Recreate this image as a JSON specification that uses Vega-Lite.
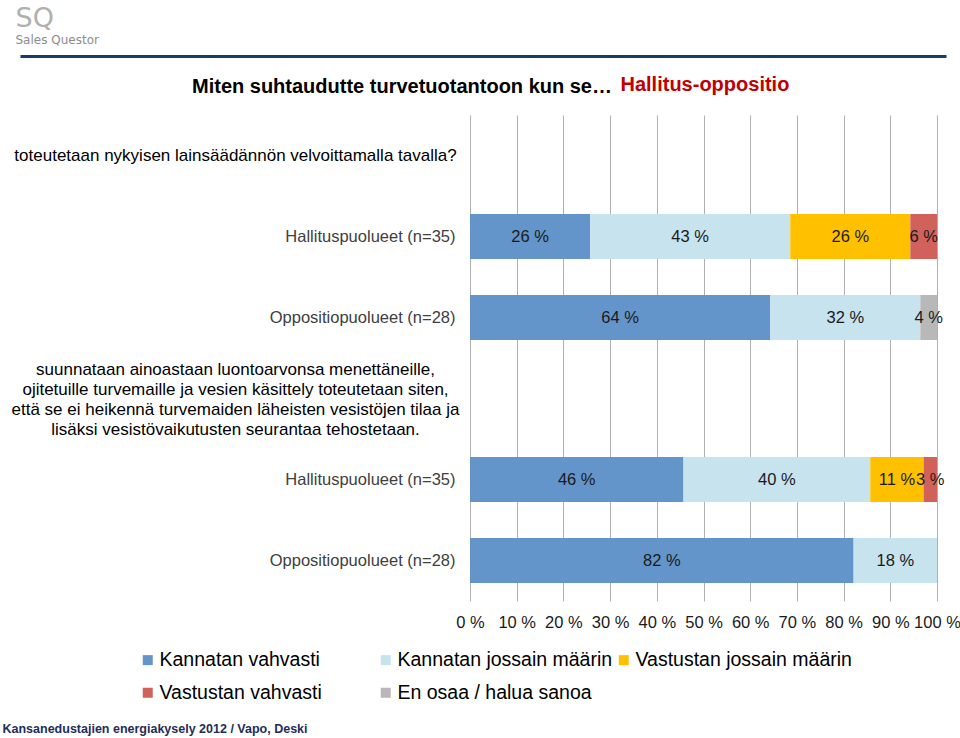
{
  "$schema": "https://vega.github.io/schema/vega-lite/v6.json",
  "autosize": {"type": "none"},
  "padding": {"left": 470, "top": 115, "right": 23, "bottom": 137},
  "width": 467,
  "height": 486,
  "background": "#ffffff",
  "title": {
    "text": "Miten suhtaudutte turvetuotantoon kun se…",
    "anchor": "start",
    "frame": "group",
    "orient": "top",
    "offset": 0,
    "dx": -278,
    "dy": 93,
    "font": "Liberation Sans",
    "fontSize": 20,
    "fontWeight": "bold",
    "color": "#000000"
  },
  "config": {
    "view": {"stroke": null},
    "font": "Liberation Sans"
  },
  "data": {
    "values": [
      {"grp": "Hallituspuolueet (n=35)", "cat": "Kannatan vahvasti", "k": 1, "value": 25.71},
      {"grp": "Hallituspuolueet (n=35)", "cat": "Kannatan jossain määrin", "k": 2, "value": 42.86},
      {"grp": "Hallituspuolueet (n=35)", "cat": "Vastustan jossain määrin", "k": 3, "value": 25.71},
      {"grp": "Hallituspuolueet (n=35)", "cat": "Vastustan vahvasti", "k": 4, "value": 5.71},
      {"grp": "Oppositiopuolueet (n=28)", "cat": "Kannatan vahvasti", "k": 1, "value": 64.29},
      {"grp": "Oppositiopuolueet (n=28)", "cat": "Kannatan jossain määrin", "k": 2, "value": 32.14},
      {"grp": "Oppositiopuolueet (n=28)", "cat": "En osaa / halua sanoa", "k": 5, "value": 3.57},
      {"grp": "Hallituspuolueet (n=35)\u200b", "cat": "Kannatan vahvasti", "k": 1, "value": 45.71},
      {"grp": "Hallituspuolueet (n=35)\u200b", "cat": "Kannatan jossain määrin", "k": 2, "value": 40.0},
      {"grp": "Hallituspuolueet (n=35)\u200b", "cat": "Vastustan jossain määrin", "k": 3, "value": 11.43},
      {"grp": "Hallituspuolueet (n=35)\u200b", "cat": "Vastustan vahvasti", "k": 4, "value": 2.86},
      {"grp": "Oppositiopuolueet (n=28)\u200b", "cat": "Kannatan vahvasti", "k": 1, "value": 82.14},
      {"grp": "Oppositiopuolueet (n=28)\u200b", "cat": "Kannatan jossain määrin", "k": 2, "value": 17.86}
    ]
  },
  "encoding": {
    "y": {
      "field": "grp",
      "type": "nominal",
      "sort": null,
      "scale": {
        "domain": [
          "toteutetaan nykyisen lainsäädännön velvoittamalla tavalla?",
          "Hallituspuolueet (n=35)",
          "Oppositiopuolueet (n=28)",
          "suunnataan ainoastaan luontoarvonsa menettäneille,|ojitetuille turvemaille ja vesien käsittely toteutetaan siten,|että se ei heikennä turvemaiden läheisten vesistöjen tilaa ja|lisäksi vesistövaikutusten seurantaa tehostetaan.",
          "Hallituspuolueet (n=35)\u200b",
          "Oppositiopuolueet (n=28)\u200b"
        ],
        "paddingInner": 0,
        "paddingOuter": 0
      }
    }
  },
  "layer": [
    {
      "mark": {"type": "bar", "size": 45},
      "encoding": {
        "x": {
          "field": "value",
          "type": "quantitative",
          "stack": "normalize",
          "scale": {"domain": [0, 1], "nice": false},
          "axis": {
            "orient": "bottom",
            "values": [0, 0.1, 0.2, 0.3, 0.4, 0.5, 0.6, 0.7, 0.8, 0.9, 1],
            "labelExpr": "round(datum.value * 100) + ' %'",
            "grid": true,
            "gridColor": "#b0b0b0",
            "gridWidth": 1,
            "domain": false,
            "ticks": false,
            "labelPadding": 13,
            "labelFontSize": 16.5,
            "labelColor": "#1a1a1a",
            "labelFont": "Liberation Sans",
            "labelFlush": false,
            "labelOverlap": false,
            "title": "Kansanedustajien energiakysely 2012 / Vapo, Deski",
            "titleX": -468,
            "titleY": 131,
            "titleAlign": "left",
            "titleAnchor": "start",
            "titleBaseline": "alphabetic",
            "titleFont": "Liberation Sans",
            "titleFontSize": 12.5,
            "titleFontWeight": "bold",
            "titleColor": "#1f2d5a"
          }
        },
        "y": {
          "field": "grp",
          "type": "nominal",
          "sort": null,
          "axis": {
            "orient": "left",
            "domain": false,
            "ticks": false,
            "grid": false,
            "labelExpr": "split(datum.label, '|')",
            "labelAlign": {"condition": {"test": "length(datum.value) > 40", "value": "center"}, "value": "right"},
            "labelPadding": {"condition": {"test": "length(datum.value) > 40", "value": 235}, "value": 15},
            "labelColor": {"condition": {"test": "length(datum.value) > 40", "value": "#000000"}, "value": "#404040"},
            "labelFontSize": {"condition": {"test": "length(datum.value) > 40", "value": 17}, "value": 16.5},
            "labelOffset": {"condition": {"test": "indexof(datum.value, '|') >= 0", "value": -29}, "value": 0},
            "labelFont": "Liberation Sans",
            "labelLimit": 600,
            "labelLineHeight": 20,
            "labelBaseline": "middle",
            "title": "SQ",
            "titleAngle": 0,
            "titleX": -455,
            "titleY": -97,
            "titleAlign": "left",
            "titleBaseline": "middle",
            "titleFont": "DejaVu Sans",
            "titleFontSize": 27,
            "titleFontWeight": "normal",
            "titleColor": "#b0b0b0"
          }
        },
        "color": {
          "field": "cat",
          "type": "nominal",
          "scale": {
            "domain": ["Kannatan vahvasti", "Kannatan jossain määrin", "Vastustan jossain määrin", "Vastustan vahvasti", "En osaa / halua sanoa"],
            "range": ["#6395ca", "#c6e3ee", "#ffc000", "#d0625b", "#b8b8b8"]
          },
          "legend": {
            "orient": "none",
            "legendX": -332,
            "legendY": 535,
            "direction": "horizontal",
            "columns": 3,
            "gridAlign": "all",
            "columnPadding": 0,
            "rowPadding": 12,
            "padding": 0,
            "symbolType": "square",
            "symbolSize": 100,
            "symbolStrokeWidth": 0,
            "labelFont": "Liberation Sans",
            "labelFontSize": 19.5,
            "labelColor": "#000000",
            "labelLimit": 400,
            "labelOffset": 2,
            "title": null
          }
        },
        "order": {"field": "k", "type": "quantitative"}
      }
    },
    {
      "mark": {
        "type": "text",
        "font": "Liberation Sans",
        "fontSize": 16.5,
        "color": "#1a1a1a",
        "align": "center",
        "baseline": "middle",
        "text": {"expr": "format(datum.value, '.0f') + ' %'"}
      },
      "encoding": {
        "x": {
          "field": "value",
          "type": "quantitative",
          "stack": "normalize",
          "bandPosition": 0.5,
          "scale": {"domain": [0, 1], "nice": false},
          "axis": null
        },
        "y": {
          "field": "grp",
          "type": "nominal",
          "sort": null,
          "axis": {
            "orient": "right",
            "domain": false,
            "ticks": false,
            "labels": false,
            "grid": false,
            "title": "Sales Questor",
            "titleAngle": 0,
            "titleX": -922,
            "titleY": -76,
            "titleAlign": "left",
            "titleBaseline": "middle",
            "titleFont": "DejaVu Sans",
            "titleFontSize": 12,
            "titleFontWeight": "normal",
            "titleColor": "#8c8c8c"
          }
        },
        "detail": {"field": "cat", "type": "nominal"},
        "order": {"field": "k", "type": "quantitative"}
      }
    },
    {
      "mark": {"type": "tick", "opacity": 0},
      "encoding": {
        "x": {
          "field": "k",
          "type": "quantitative",
          "scale": {"domain": [0, 1], "range": [-450, 476], "nice": false},
          "axis": {
            "orient": "top",
            "domain": true,
            "domainColor": "#1b3a6b",
            "domainWidth": 3,
            "labels": false,
            "ticks": false,
            "grid": false,
            "offset": 59,
            "title": "Hallitus-oppositio",
            "titleX": 150,
            "titleY": 28,
            "titleAlign": "left",
            "titleBaseline": "middle",
            "titleFont": "Liberation Sans",
            "titleFontSize": 20,
            "titleFontWeight": "bold",
            "titleColor": "#c00000"
          }
        },
        "y": {"field": "grp", "type": "nominal", "sort": null, "axis": null}
      }
    }
  ],
  "resolve": {"scale": {"x": "independent"}, "axis": {"x": "independent", "y": "independent"}}
}
